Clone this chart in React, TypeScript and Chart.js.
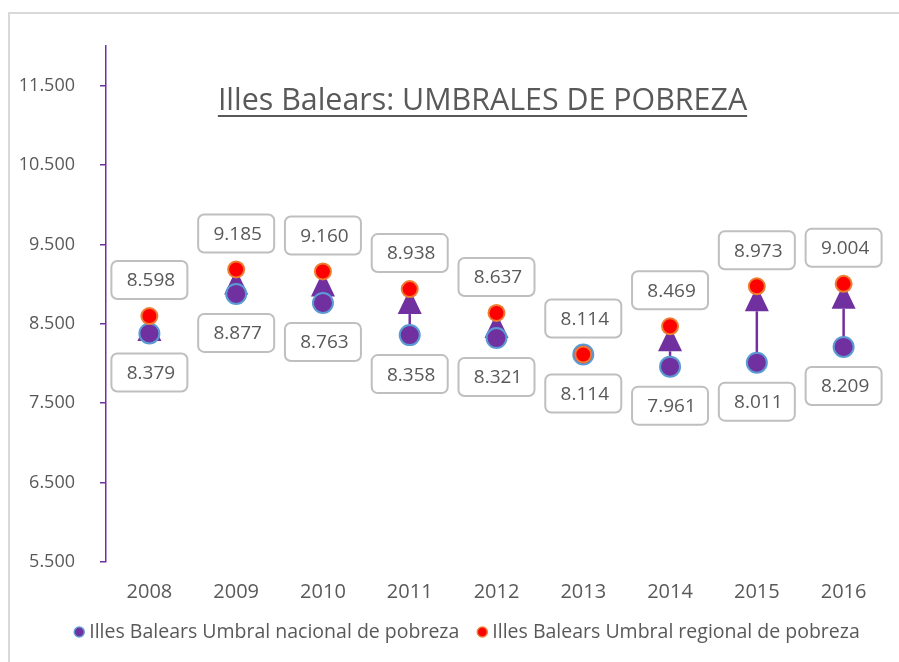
import React, { useEffect, useRef } from "react";
import { Chart, registerables } from "chart.js";

Chart.register(...registerables);

// ---- data ----
const years = ["2008", "2009", "2010", "2011", "2012", "2013", "2014", "2015", "2016"];
const nacional = [8379, 8877, 8763, 8358, 8321, 8114, 7961, 8011, 8209];
const regional = [8598, 9185, 9160, 8938, 8637, 8114, 8469, 8973, 9004];
const yTickValues = [5500, 6500, 7500, 8500, 9500, 10500, 11500];
const titleText = "Illes Balears: UMBRALES DE POBREZA";
const seriesNames = [
  "Illes Balears Umbral nacional de pobreza",
  "Illes Balears Umbral regional de pobreza",
];

// ---- styles ----
const FONT = "'Open Sans', sans-serif";
const TEXT = "#595959";
const PURPLE = "#7030A0";
const BLUE = "#5B9BD5";
const RED = "#FF0000";
const ORANGE = "#ED7D31";
const BOX = "#BFBFBF";

const fmt = (v: number) =>
  Math.round(v).toString().replace(/\B(?=(\d{3})+(?!\d))/g, ".");

function roundRect(ctx: CanvasRenderingContext2D, x: number, y: number, w: number, h: number, r: number) {
  ctx.beginPath();
  ctx.moveTo(x + r, y);
  ctx.lineTo(x + w - r, y);
  ctx.arcTo(x + w, y, x + w, y + r, r);
  ctx.lineTo(x + w, y + h - r);
  ctx.arcTo(x + w, y + h, x + w - r, y + h, r);
  ctx.lineTo(x + r, y + h);
  ctx.arcTo(x, y + h, x, y + h - r, r);
  ctx.lineTo(x, y + r);
  ctx.arcTo(x, y, x + r, y, r);
  ctx.closePath();
}

function drawMarker(ctx: CanvasRenderingContext2D, x: number, y: number, r: number, fill: string, stroke: string, lw: number) {
  ctx.beginPath();
  ctx.arc(x, y, r, 0, Math.PI * 2);
  ctx.fillStyle = fill;
  ctx.fill();
  ctx.lineWidth = lw;
  ctx.strokeStyle = stroke;
  ctx.stroke();
}

const decorPlugin = {
  id: "decor",
  beforeDraw(chart: any) {
    const ctx: CanvasRenderingContext2D = chart.ctx;
    ctx.save();
    ctx.fillStyle = "#ffffff";
    ctx.fillRect(0, 0, chart.width, chart.height);
    // outer frame (partially visible)
    ctx.strokeStyle = "#D9D9D9";
    ctx.lineWidth = 2;
    ctx.beginPath();
    ctx.moveTo(9, chart.height);
    ctx.lineTo(9, 13);
    ctx.lineTo(chart.width, 13);
    ctx.stroke();

    // title
    ctx.font = `30.4px ${FONT}`;
    ctx.fillStyle = TEXT;
    ctx.textAlign = "center";
    ctx.textBaseline = "alphabetic";
    const cx = 482.5;
    ctx.fillText(titleText, cx, 110);
    const tw = ctx.measureText(titleText).width;
    ctx.fillRect(cx - tw / 2, 115, tw, 2);

    // legend
    ctx.font = `19.5px ${FONT}`;
    ctx.textAlign = "left";
    ctx.textBaseline = "middle";
    const w1 = ctx.measureText(seriesNames[0]).width;
    const w2 = ctx.measureText(seriesNames[1]).width;
    const total = 5 + 10 + w1 + 23 + 10 + w2;
    const ly = 632;
    let lx = 467 - total / 2 + 5;
    drawMarker(ctx, lx, ly, 5, PURPLE, BLUE, 1.5);
    ctx.fillStyle = TEXT;
    ctx.fillText(seriesNames[0], lx + 10, ly);
    lx = lx + 10 + w1 + 23;
    drawMarker(ctx, lx, ly, 5, RED, ORANGE, 1.5);
    ctx.fillStyle = TEXT;
    ctx.fillText(seriesNames[1], lx + 10, ly);
    ctx.restore();
  },
  beforeDatasetsDraw(chart: any) {
    const ctx: CanvasRenderingContext2D = chart.ctx;
    const xs = chart.scales.x;
    const ys = chart.scales.y;
    ctx.save();
    for (let i = 0; i < years.length; i++) {
      const x = xs.getPixelForValue(i);
      const y1 = ys.getPixelForValue(nacional[i]);
      const y2 = ys.getPixelForValue(regional[i]);
      if (Math.abs(y1 - y2) < 1) continue;
      const head = 25;
      const half = 12;
      ctx.strokeStyle = PURPLE;
      ctx.lineWidth = 2.5;
      if (y1 > y2 + head) {
        ctx.beginPath();
        ctx.moveTo(x, y1);
        ctx.lineTo(x, y2 + head);
        ctx.stroke();
      }
      ctx.fillStyle = PURPLE;
      ctx.beginPath();
      ctx.moveTo(x, y2);
      ctx.lineTo(x + half, y2 + head);
      ctx.lineTo(x - half, y2 + head);
      ctx.closePath();
      ctx.fill();
    }
    ctx.restore();
  },
  afterDatasetsDraw(chart: any) {
    const ctx: CanvasRenderingContext2D = chart.ctx;
    const xs = chart.scales.x;
    const ys = chart.scales.y;
    ctx.save();
    ctx.font = `19px ${FONT}`;
    ctx.textAlign = "center";
    ctx.textBaseline = "middle";
    const bw = 76;
    const bh = 38;
    const drawBox = (x: number, cy: number, txt: string) => {
      roundRect(ctx, x - bw / 2, cy - bh / 2, bw, bh, 6);
      ctx.fillStyle = "#ffffff";
      ctx.fill();
      ctx.strokeStyle = BOX;
      ctx.lineWidth = 2;
      ctx.stroke();
      ctx.fillStyle = TEXT;
      ctx.fillText(txt, x + 1.5, cy + 1);
    };
    for (let i = 0; i < years.length; i++) {
      const x = xs.getPixelForValue(i);
      drawBox(x, ys.getPixelForValue(regional[i]) - 36, fmt(regional[i]));
      drawBox(x, ys.getPixelForValue(nacional[i]) + 39, fmt(nacional[i]));
    }
    ctx.restore();
  },
};

export default function App() {
  const ref = useRef<HTMLCanvasElement>(null);
  useEffect(() => {
    if (!ref.current) return;
    const chart = new Chart(ref.current, {
      type: "line",
      data: {
        labels: years,
        datasets: [
          {
            label: seriesNames[0],
            data: nacional,
            showLine: false,
            pointRadius: 10,
            pointHoverRadius: 10,
            pointBackgroundColor: PURPLE,
            pointBorderColor: BLUE,
            pointBorderWidth: 2,
            order: 1,
          },
          {
            label: seriesNames[1],
            data: regional,
            showLine: false,
            pointRadius: 8,
            pointHoverRadius: 8,
            pointBackgroundColor: RED,
            pointBorderColor: ORANGE,
            pointBorderWidth: 2,
            order: 0,
          },
        ],
      },
      options: {
        responsive: false,
        animation: false,
        events: [],
        layout: { padding: { top: 46, right: 12, left: 0, bottom: 0 } },
        plugins: {
          legend: { display: false },
          title: { display: false },
          tooltip: { enabled: false },
        },
        scales: {
          x: {
            offset: true,
            grid: { display: false, drawTicks: false },
            border: { display: false },
            ticks: {
              color: TEXT,
              font: { family: FONT, size: 20 },
              padding: 18,
              maxRotation: 0,
              autoSkip: false,
            },
            afterFit: (s: any) => {
              s.height = 100;
            },
          },
          y: {
            min: 5500,
            max: 12000,
            afterBuildTicks: (s: any) => {
              s.ticks = yTickValues.map((v) => ({ value: v }));
            },
            grid: {
              drawOnChartArea: false,
              drawTicks: true,
              tickLength: 6,
              color: PURPLE,
              lineWidth: 1.5,
            },
            border: { color: PURPLE, width: 1.5 },
            ticks: {
              color: TEXT,
              font: { family: FONT, size: 18 },
              padding: 25,
              callback: (v: any) => fmt(Number(v)),
            },
            afterFit: (s: any) => {
              s.width = 106;
            },
          },
        },
      },
      plugins: [decorPlugin],
    });
    return () => chart.destroy();
  }, []);
  return (
    <div style={{ position: "fixed", left: 0, top: 0, width: 899, height: 662 }}>
      <canvas ref={ref} width={899} height={662} />
    </div>
  );
}
